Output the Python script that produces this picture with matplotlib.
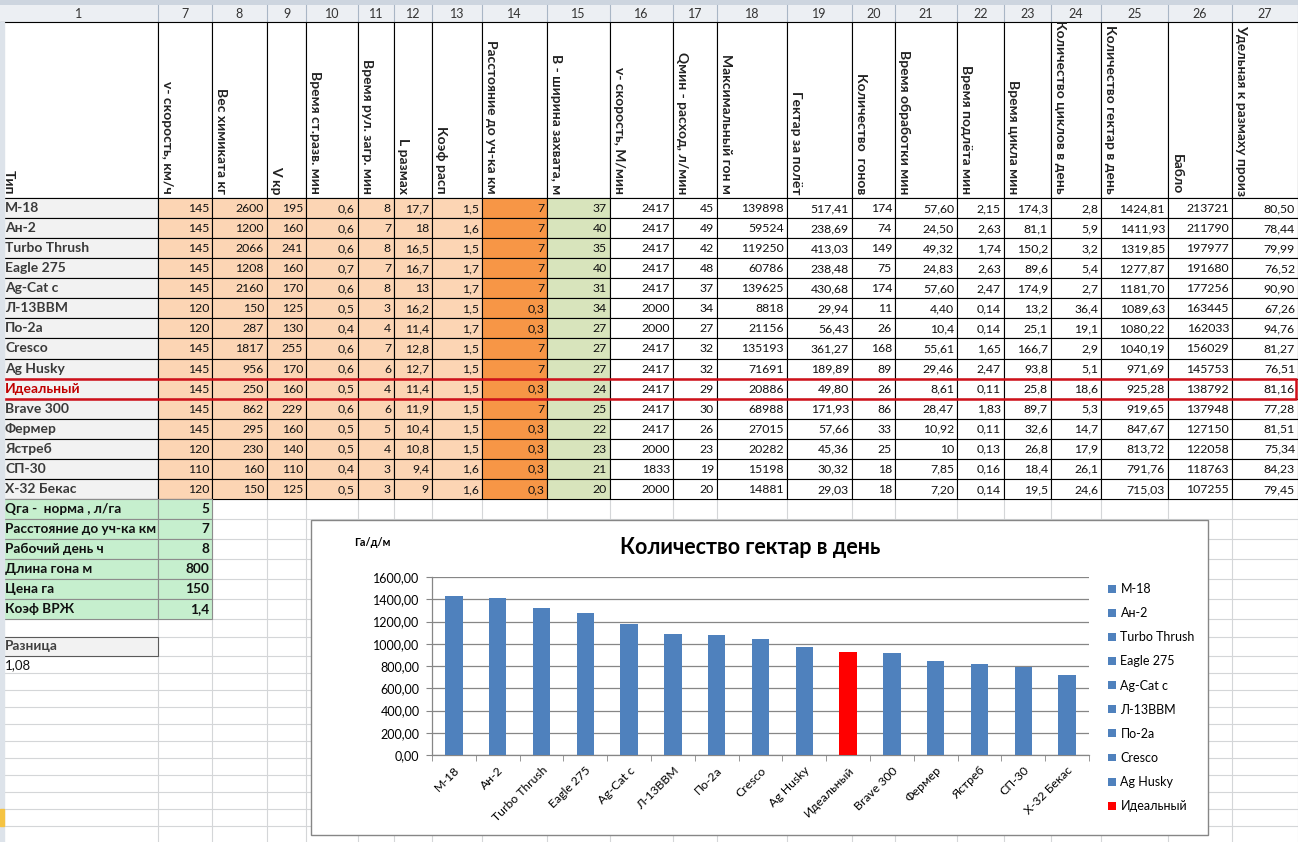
import matplotlib
matplotlib.use('Agg')
import matplotlib.pyplot as plt
from matplotlib.patches import Rectangle, Patch
from matplotlib.ticker import FixedLocator, FuncFormatter

plt.rcParams['font.family'] = ['Lato', 'DejaVu Sans']

W, H = 1298, 842

# ---- data ----
types = ['М-18', 'Ан-2', 'Turbo Thrush', 'Eagle 275', 'Ag-Cat c', 'Л-13ВВМ', 'По-2а',
         'Cresco', 'Ag Husky', 'Идеальный', 'Brave 300', 'Фермер', 'Ястреб', 'СП-30',
         'Х-32 Бекас']

col_numbers = ['1', '7', '8', '9', '10', '11', '12', '13', '14', '15', '16', '17', '18',
               '19', '20', '21', '22', '23', '24', '25', '26', '27']

headers = ['Тип', 'v- скорость, км/ч', 'Вес химиката кг', 'V кр', 'Время ст.разв. мин',
           'Время рул. загр. мин', 'L размах', 'Коэф расп', 'Расстояние до уч-ка км',
           'B - ширина захвата, м', 'v- скорость, М/мин', 'Qмин - расход, л/мин',
           'Максимальный гон м', 'Гектар за полёт', 'Количество  гонов',
           'Время обработки мин', 'Время подлёта мин', 'Время цикла мин',
           'Количество циклов в день', 'Количество гектар в день', 'Бабло',
           'Удельная к размаху производительность']

speed_kmh = [145, 145, 145, 145, 145, 120, 120, 145, 145, 145, 145, 145, 120, 110, 120]
chem_weight = [2600, 1200, 2066, 1208, 2160, 150, 287, 1817, 956, 250, 862, 295, 230, 160, 150]
v_kr = [195, 160, 241, 160, 170, 125, 130, 255, 170, 160, 229, 160, 140, 110, 125]
t_turn = [0.6, 0.6, 0.6, 0.7, 0.6, 0.5, 0.4, 0.6, 0.6, 0.5, 0.6, 0.5, 0.5, 0.4, 0.5]
t_load = [8, 7, 8, 7, 8, 3, 4, 7, 6, 4, 6, 5, 4, 3, 3]
span = [17.7, 18, 16.5, 16.7, 13, 16.2, 11.4, 12.8, 12.7, 11.4, 11.9, 10.4, 10.8, 9.4, 9]
k_spread = [1.5, 1.6, 1.5, 1.7, 1.7, 1.5, 1.7, 1.5, 1.5, 1.5, 1.5, 1.5, 1.5, 1.6, 1.6]
dist_km = [7, 7, 7, 7, 7, 0.3, 0.3, 7, 7, 0.3, 7, 0.3, 0.3, 0.3, 0.3]
swath = [37, 40, 35, 40, 31, 34, 27, 27, 27, 24, 25, 22, 23, 21, 20]
speed_mmin = [2417, 2417, 2417, 2417, 2417, 2000, 2000, 2417, 2417, 2417, 2417, 2417, 2000, 1833, 2000]
q_min = [45, 49, 42, 48, 37, 34, 27, 32, 32, 29, 30, 26, 23, 19, 20]
max_run = [139898, 59524, 119250, 60786, 139625, 8818, 21156, 135193, 71691, 20886,
           68988, 27015, 20282, 15198, 14881]
ha_flight = [517.41, 238.69, 413.03, 238.48, 430.68, 29.94, 56.43, 361.27, 189.89, 49.80,
             171.93, 57.66, 45.36, 30.32, 29.03]
n_runs = [174, 74, 149, 75, 174, 11, 26, 168, 89, 26, 86, 33, 25, 18, 18]
t_work = ['57,60', '24,50', '49,32', '24,83', '57,60', '4,40', '10,4', '55,61', '29,46',
          '8,61', '28,47', '10,92', '10', '7,85', '7,20']
t_approach = [2.15, 2.63, 1.74, 2.63, 2.47, 0.14, 0.14, 1.65, 2.47, 0.11, 1.83, 0.11, 0.13, 0.16, 0.14]
t_cycle = [174.3, 81.1, 150.2, 89.6, 174.9, 13.2, 25.1, 166.7, 93.8, 25.8, 89.7, 32.6, 26.8, 18.4, 19.5]
cycles_day = [2.8, 5.9, 3.2, 5.4, 2.7, 36.4, 19.1, 2.9, 5.1, 18.6, 5.3, 14.7, 17.9, 26.1, 24.6]
ha_day = [1424.81, 1411.93, 1319.85, 1277.87, 1181.70, 1089.63, 1080.22, 1040.19, 971.69,
          925.28, 919.65, 847.67, 813.72, 791.76, 715.03]
money = [213721, 211790, 197977, 191680, 177256, 163445, 162033, 156029, 145753, 138792,
         137948, 127150, 122058, 118763, 107255]
specific = [80.50, 78.44, 79.99, 76.52, 90.90, 67.26, 94.76, 81.27, 76.51, 81.16, 77.28,
            81.51, 75.34, 84.23, 79.45]

# decimals: 0 -> integer, n -> fixed, None -> general
columns = [(speed_kmh, 0), (chem_weight, 0), (v_kr, 0), (t_turn, 1), (t_load, 0),
           (span, None), (k_spread, 1), (dist_km, None), (swath, 0), (speed_mmin, 0),
           (q_min, 0), (max_run, 0), (ha_flight, 2), (n_runs, 0), (t_work, 'str'),
           (t_approach, 2), (t_cycle, 1), (cycles_day, 1), (ha_day, 2), (money, 0),
           (specific, 2)]

param_labels = ['Qга -  норма , л/га', 'Расстояние до уч-ка км', 'Рабочий день ч',
                'Длина гона м', 'Цена га', 'Коэф ВРЖ']
param_values = ['5', '7', '8', '800', '150', '1,4']
diff_label = 'Разница'
diff_value = '1,08'

ideal = 'Идеальный'
y_ticks = [0, 200, 400, 600, 800, 1000, 1200, 1400, 1600]
legend_count = 10  # the legend box only has room for the first ten entries


def fmt(v, d):
    if d == 'str':
        return v
    if d is None:
        s = ('%.4f' % v).rstrip('0').rstrip('.')
    else:
        s = '%.*f' % (d, v)
    return s.replace('.', ',')


# ---- layout (pixels) ----
col_edges = [0, 158, 212, 267, 306, 358, 394, 432, 482, 547, 610, 673, 717, 787, 852,
             895, 957, 1004, 1051, 1101, 1168, 1232, 1298]
head_top, head_bot = 22, 198
row_h = (499 - 198) / 15
row_tops = [198 + i * row_h for i in range(16)]
low_rows = [499, 519, 539, 559, 579, 599, 619, 637, 656, 673]
while low_rows[-1] < H:
    low_rows.append(low_rows[-1] + 17)

grid_c = '#d4d6d8'
peach = '#fcd5b4'
orange = '#f79646'
olive = '#d8e4bc'
green = '#c6efce'
blue = '#4f81bd'

fig = plt.figure(figsize=(W / 100, H / 100), dpi=100)
ax0 = fig.add_axes([0, 0, 1, 1])
ax0.set_xlim(0, W)
ax0.set_ylim(H, 0)
ax0.axis('off')

# sheet gridlines below the table
for x in col_edges:
    ax0.plot([x, x], [499, H], color=grid_c, lw=0.8, zorder=1)
for y in low_rows:
    ax0.plot([0, W], [y, y], color=grid_c, lw=0.8, zorder=1)

# top strip + column number row
ax0.add_patch(Rectangle((0, 0), W, 5, color='#cdd5df', zorder=2))
ax0.add_patch(Rectangle((0, 5), W, head_top - 5, facecolor='#eceff3', edgecolor='none', zorder=2))
for i, lab in enumerate(col_numbers):
    l, r = col_edges[i], col_edges[i + 1]
    ax0.plot([r, r], [5, head_top], color='#a9b6c5', lw=0.8, zorder=3)
    ax0.text((l + r) / 2, 14, lab, ha='center', va='center', fontsize=9,
             color='#333333', zorder=4)
ax0.plot([0, W], [head_top, head_top], color='#a9b6c5', lw=0.8, zorder=3)

# left row-header strip
ax0.add_patch(Rectangle((0, head_top), 4, H - head_top, color='#dde3ea', zorder=6))
ax0.add_patch(Rectangle((0, 809), 4, 17, color='#f5c342', zorder=7))

# header cells with rotated text
for i, txt in enumerate(headers):
    l, r = col_edges[i], col_edges[i + 1]
    cell = Rectangle((l, head_top), r - l, head_bot - head_top, facecolor='white',
                     edgecolor='black', lw=0.8, zorder=3)
    ax0.add_patch(cell)
    if i == len(headers) - 1:
        t = ax0.text(l + 9, head_top + 3, txt, rotation=270, rotation_mode='anchor',
                     ha='left', va='center', fontsize=10, fontweight='bold',
                     color='#222222', zorder=4)
        t.set_clip_on(True)
        t.set_clip_path(cell)
    else:
        ax0.text(l + 9, head_bot - 4, txt, rotation=270, rotation_mode='anchor',
                 ha='right', va='center', fontsize=10, fontweight='bold',
                 color='#222222', zorder=4)

# data rows
for ri, name in enumerate(types):
    top, bot = row_tops[ri], row_tops[ri + 1]
    yc = (top + bot) / 2
    ax0.add_patch(Rectangle((0, top), col_edges[1], bot - top, facecolor='#f2f2f2',
                            edgecolor='black', lw=0.8, zorder=3))
    ax0.text(5, yc, name, ha='left', va='center', fontsize=10, fontweight='bold',
             color='#c00000' if name == ideal else '#3a3a3a', zorder=4)
    for ci, (vals, d) in enumerate(columns):
        l, r = col_edges[ci + 1], col_edges[ci + 2]
        if ci <= 6:
            fc = peach
        elif ci == 7:
            fc = orange
        elif ci == 8:
            fc = olive
        else:
            fc = 'white'
        ax0.add_patch(Rectangle((l, top), r - l, bot - top, facecolor=fc,
                                edgecolor='black', lw=0.8, zorder=3))
        ax0.text(r - 3, yc + 0.5, fmt(vals[ri], d), ha='right', va='center',
                 fontsize=8.8, color='#111111', zorder=4)

# red frame around the ideal row
ii = types.index(ideal)
y1, y2 = row_tops[ii], row_tops[ii + 1]
ax0.plot([4, W - 2, W - 2, 4], [y1, y1, y2, y2], color='#d0101a', lw=1.8, zorder=5)

# parameter block
for k, (lab, val) in enumerate(zip(param_labels, param_values)):
    top, bot = low_rows[k], low_rows[k + 1]
    yc = (top + bot) / 2
    for l, r in [(col_edges[0], col_edges[1]), (col_edges[1], col_edges[2])]:
        ax0.add_patch(Rectangle((l, top), r - l, bot - top, facecolor=green,
                                edgecolor='#8c8c8c', lw=0.8, zorder=3))
    ax0.text(5, yc, lab, ha='left', va='center', fontsize=9.8, fontweight='bold',
             color='#111111', zorder=4)
    ax0.text(col_edges[2] - 3, yc, val, ha='right', va='center', fontsize=9.8,
             fontweight='bold', color='#111111', zorder=4)

ax0.add_patch(Rectangle((0, low_rows[7]), col_edges[1], low_rows[8] - low_rows[7],
                        facecolor='#f2f2f2', edgecolor='#5a5a5a', lw=0.8, zorder=3))
ax0.text(5, (low_rows[7] + low_rows[8]) / 2, diff_label, ha='left', va='center',
         fontsize=9.8, fontweight='bold', color='#404040', zorder=4)
ax0.text(5, (low_rows[8] + low_rows[9]) / 2 + 1, diff_value, ha='left', va='center',
         fontsize=9.5, color='#111111', zorder=4)

# chart frame
ax0.add_patch(Rectangle((311, 520), 1208 - 311, 835 - 520, facecolor='white',
                        edgecolor='#868686', lw=1, zorder=8))
ax0.text(750, 548, 'Количество гектар в день', ha='center', va='center',
         fontsize=15.5, fontweight='bold', color='black', zorder=9)
ax0.text(372, 543, 'Га/д/м', ha='center', va='center', fontsize=7.8,
         fontweight='bold', color='black', zorder=9)

# ---- chart ----
px_l, px_r, px_t, px_b = 432, 1089, 577, 755
ax = fig.add_axes([px_l / W, 1 - px_b / H, (px_r - px_l) / W, (px_b - px_t) / H])
ax.set_zorder(10)
ax.patch.set_alpha(0)
xs = list(range(len(types)))
colors = ['red' if t == ideal else blue for t in types]
ax.bar(xs, ha_day, width=0.4, color=colors, zorder=3)
ax.set_xlim(-0.5, len(types) - 0.5)
ax.set_ylim(0, 1600)
ax.set_yticks(y_ticks)
ax.yaxis.set_major_formatter(FuncFormatter(lambda v, p: ('%.2f' % v).replace('.', ',')))
ax.yaxis.grid(True, color='#868686', lw=0.9)
ax.set_axisbelow(True)
ax.set_xticks(xs)
ax.set_xticklabels(types, rotation=45, ha='right', rotation_mode='anchor')
ax.xaxis.set_minor_locator(FixedLocator([x - 0.5 for x in range(len(types) + 1)]))
ax.tick_params(axis='x', which='major', length=0, pad=7, labelsize=8.8)
ax.tick_params(axis='x', which='minor', length=4, color='#868686', direction='out')
ax.tick_params(axis='y', length=4, color='#868686', pad=5, labelsize=9)
for s in ['top', 'right']:
    ax.spines[s].set_visible(False)
for s in ['left', 'bottom']:
    ax.spines[s].set_color('#868686')
    ax.spines[s].set_linewidth(0.9)

handles = [Patch(facecolor=c, edgecolor='none') for c in colors[:legend_count]]
fig.legend(handles, types[:legend_count], loc='upper left',
           bbox_to_anchor=(1108 / W, 1 - 583 / H),
           frameon=False, fontsize=9, handlelength=0.6, handleheight=0.6,
           handletextpad=0.4, labelspacing=0.97, borderpad=0, borderaxespad=0)

fig.savefig('out.png', dpi=100)
